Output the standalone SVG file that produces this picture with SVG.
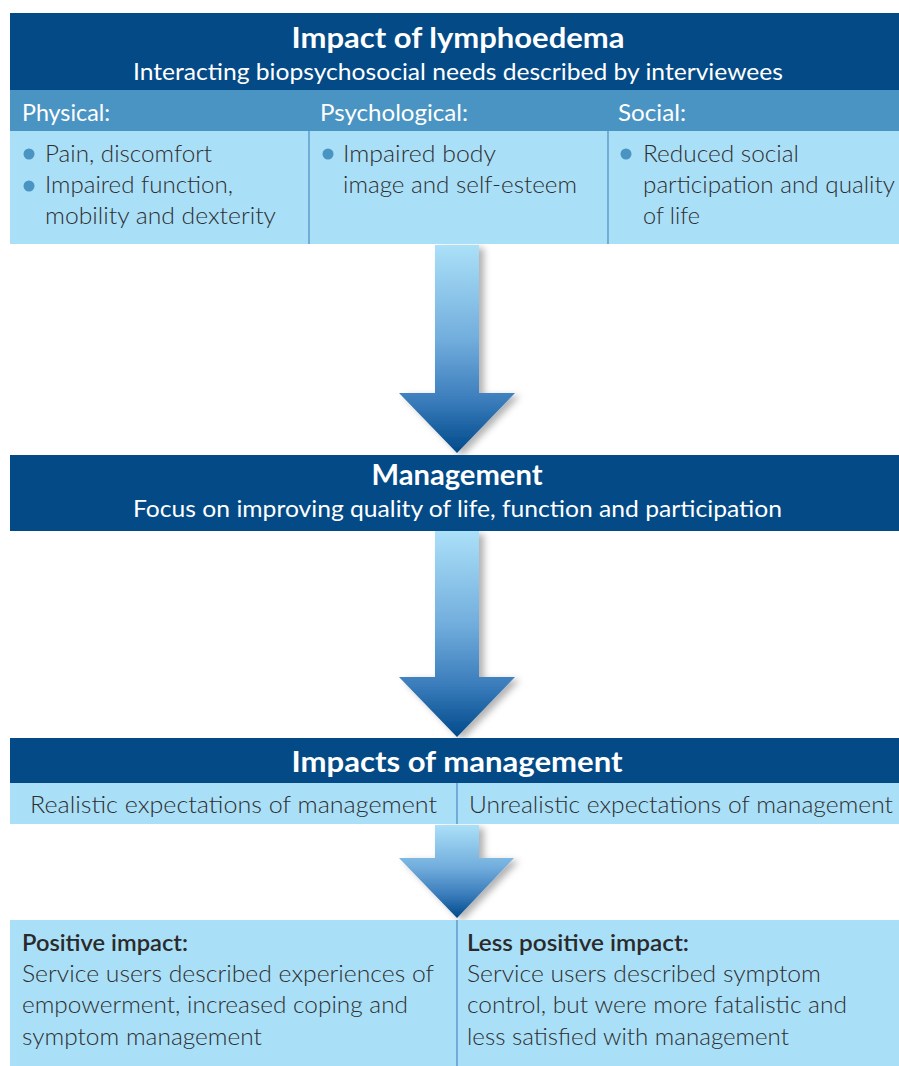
<svg xmlns="http://www.w3.org/2000/svg" width="899" height="1066" viewBox="0 0 899 1066">
  <defs>
    <linearGradient id="arrowFill" x1="0" y1="0" x2="0" y2="1">
      <stop offset="0" stop-color="#abe0f8"/>
      <stop offset="0.45" stop-color="#72aedd"/>
      <stop offset="0.75" stop-color="#3a7cbb"/>
      <stop offset="1" stop-color="#004a8a"/>
    </linearGradient>
    <filter id="arrowShadow" x="-30%" y="-10%" width="160%" height="130%">
      <feDropShadow dx="5" dy="3" stdDeviation="3.5" flood-color="#000" flood-opacity="0.3"/>
    </filter>
    <style>
      .dark { fill: #034a86; }
      .mid { fill: #4a94c3; }
      .light { fill: #aadff8; }
      .rule { stroke: #4a8cc0; stroke-width: 1.2; }
      .title { font-family: "Lato", "Liberation Sans", sans-serif; font-weight: 700; font-size: 29px; fill: #ffffff; text-anchor: middle; }
      .sub { font-family: "Lato", "Liberation Sans", sans-serif; font-size: 24px; fill: #ffffff; }
      .head { font-family: "Lato", "Liberation Sans", sans-serif; font-size: 24px; fill: #ffffff; }
      .body { font-family: "Lato", "Liberation Sans", sans-serif; font-weight: 300; font-size: 24px; fill: #2e2e2e; }
      .bodyb { font-family: "Lato", "Liberation Sans", sans-serif; font-size: 23px; font-weight: 600; fill: #2a2a2a; }
      .bullet { fill: #4a94c3; }
      .arrow { fill: url(#arrowFill); filter: url(#arrowShadow); }
    </style>
  </defs>

  <rect width="899" height="1066" fill="#ffffff"/>

  <!-- Connectors: gradient block arrows between stages -->
  <g id="connectors">
    <path class="arrow" d="M435 245 H479 V393 H515 L457 453 L399 393 H435 Z"/>
    <path class="arrow" d="M435 531 H479 V677 H515 L457 737 L399 677 H435 Z"/>
    <path class="arrow" d="M435 825 H479 V858 H514 L457 918 L399 858 H435 Z"/>
  </g>

  <!-- Impact of lymphoedema -->
  <g id="impact-of-lymphoedema">
    <rect class="dark" x="10" y="13" width="889" height="77"/>
    <rect class="mid" x="10" y="90" width="889" height="41"/>
    <rect class="light" x="10" y="131" width="889" height="113"/>
    <line class="rule" x1="309" y1="131" x2="309" y2="244"/>
    <line class="rule" x1="608" y1="131" x2="608" y2="244"/>
    <text class="title" x="458" y="48" textLength="333" lengthAdjust="spacingAndGlyphs">Impact of lymphoedema</text>
    <text class="sub" x="133" y="80" textLength="650" lengthAdjust="spacingAndGlyphs">Interacting biopsychosocial needs described by interviewees</text>

    <text class="head" x="22" y="121" textLength="88" lengthAdjust="spacingAndGlyphs">Physical:</text>
    <text class="head" x="320" y="121" textLength="148" lengthAdjust="spacingAndGlyphs">Psychological:</text>
    <text class="head" x="618" y="121" textLength="68" lengthAdjust="spacingAndGlyphs">Social:</text>

    <circle class="bullet" cx="29" cy="154" r="5.5"/>
    <text class="body" x="45" y="162" textLength="167" lengthAdjust="spacingAndGlyphs">Pain, discomfort</text>
    <circle class="bullet" cx="29" cy="186" r="5.5"/>
    <text class="body" x="45" y="193" textLength="188" lengthAdjust="spacingAndGlyphs">Impaired function,</text>
    <text class="body" x="45" y="224" textLength="231" lengthAdjust="spacingAndGlyphs">mobility and dexterity</text>

    <circle class="bullet" cx="328" cy="154" r="5.5"/>
    <text class="body" x="343" y="162" textLength="153" lengthAdjust="spacingAndGlyphs">Impaired body</text>
    <text class="body" x="343" y="193" textLength="234" lengthAdjust="spacingAndGlyphs">image and self-esteem</text>

    <circle class="bullet" cx="626" cy="154" r="5.5"/>
    <text class="body" x="643" y="162" textLength="156" lengthAdjust="spacingAndGlyphs">Reduced social</text>
    <text class="body" x="643" y="193" textLength="252" lengthAdjust="spacingAndGlyphs">participation and quality</text>
    <text class="body" x="643" y="224" textLength="57" lengthAdjust="spacingAndGlyphs">of life</text>
  </g>

  <!-- Management -->
  <g id="management">
    <rect class="dark" x="10" y="455" width="889" height="76"/>
    <text class="title" x="457" y="485" textLength="171" lengthAdjust="spacingAndGlyphs">Management</text>
    <text class="sub" x="133" y="517" textLength="649" lengthAdjust="spacingAndGlyphs">Focus on improving quality of life, function and participation</text>
  </g>

  <!-- Impacts of management -->
  <g id="impacts-of-management">
    <rect class="dark" x="10" y="738" width="889" height="45"/>
    <rect class="light" x="10" y="783" width="889" height="41"/>
    <line class="rule" x1="457" y1="783" x2="457" y2="824"/>
    <text class="title" x="457" y="772" textLength="331" lengthAdjust="spacingAndGlyphs">Impacts of management</text>
    <text class="body" x="30" y="813" textLength="407" lengthAdjust="spacingAndGlyphs">Realistic expectations of management</text>
    <text class="body" x="469" y="813" textLength="424" lengthAdjust="spacingAndGlyphs">Unrealistic expectations of management</text>
  </g>

  <!-- Positive impact -->
  <g id="positive-impact">
    <rect class="light" x="10" y="920" width="447" height="146"/>
    <text class="bodyb" x="22" y="951" textLength="166" lengthAdjust="spacingAndGlyphs">Positive impact:</text>
    <text class="body" x="22" y="982" textLength="412" lengthAdjust="spacingAndGlyphs">Service users described experiences of</text>
    <text class="body" x="22" y="1013" textLength="386" lengthAdjust="spacingAndGlyphs">empowerment, increased coping and</text>
    <text class="body" x="22" y="1045" textLength="240" lengthAdjust="spacingAndGlyphs">symptom management</text>
  </g>

  <!-- Less positive impact -->
  <g id="less-positive-impact">
    <rect class="light" x="457" y="920" width="442" height="146"/>
    <line class="rule" x1="457" y1="920" x2="457" y2="1066"/>
    <text class="bodyb" x="467" y="951" textLength="222" lengthAdjust="spacingAndGlyphs">Less positive impact:</text>
    <text class="body" x="467" y="982" textLength="354" lengthAdjust="spacingAndGlyphs">Service users described symptom</text>
    <text class="body" x="467" y="1013" textLength="380" lengthAdjust="spacingAndGlyphs">control, but were more fatalistic and</text>
    <text class="body" x="467" y="1045" textLength="322" lengthAdjust="spacingAndGlyphs">less satisfied with management</text>
  </g>
</svg>
